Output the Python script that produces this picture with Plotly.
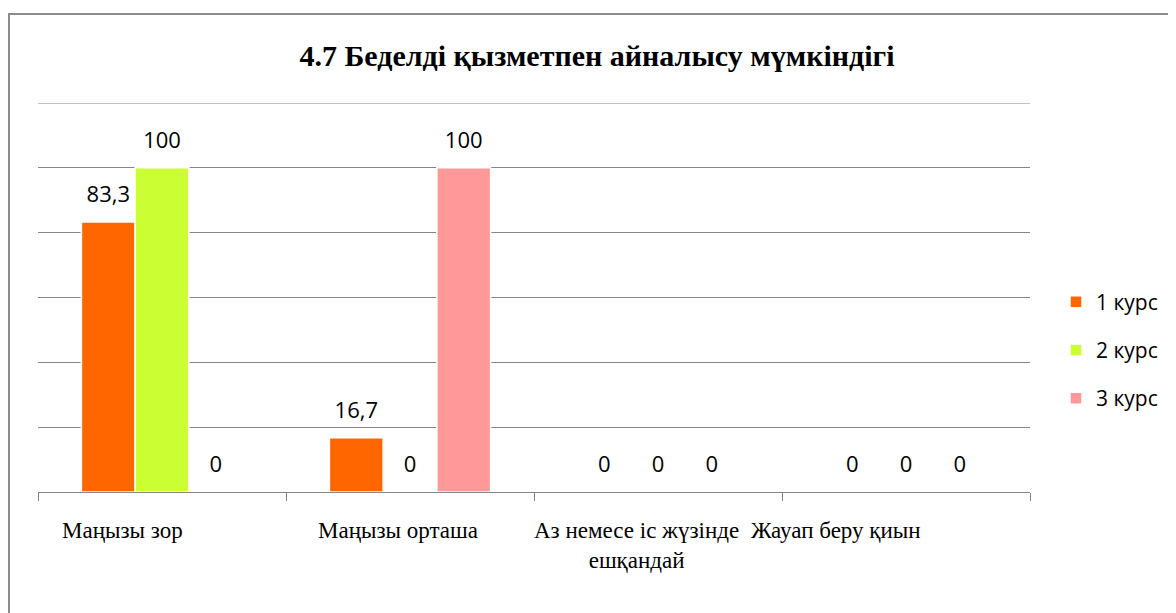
import plotly.graph_objects as go

categories = ["Маңызы зор", "Маңызы орташа", "Аз немесе іс жүзінде<br>ешқандай", "Жауап беру қиын"]
series_names = ["1 курс", "2 курс", "3 курс"]
course1 = [83.3, 16.7, 0, 0]
course2 = [100, 0, 0, 0]
course3 = [0, 100, 0, 0]
colors = ["#FF6600", "#CCFF33", "#FF9999"]
title_text = "4.7 Беделді қызметпен айналысу мүмкіндігі"
label_shift = [-40, -12, -22, -70]  # horizontal style offsets of category captions (px)


def fmt(v):
    s = ("%.1f" % v).rstrip("0").rstrip(".")
    return s.replace(".", ",")


sans = "Open Sans, Liberation Sans, sans-serif"
serif = "Liberation Serif, Times New Roman, serif"

fig = go.Figure()
for i, (name, vals) in enumerate(zip(series_names, [course1, course2, course3])):
    fig.add_trace(go.Bar(
        x=categories, y=vals, name=name, offsetgroup=str(i),
        marker=dict(color=colors[i], line=dict(color="white", width=1.5)),
        legendgroup=name,
    ))
for i, (name, vals) in enumerate(zip(series_names, [course1, course2, course3])):
    fig.add_trace(go.Scatter(
        x=categories, y=vals, name=name, offsetgroup=str(i), mode="markers+text",
        marker=dict(size=22, color="rgba(0,0,0,0)"),
        text=[fmt(v) for v in vals], textposition="top center", cliponaxis=False,
        textfont=dict(family=sans, size=22, color="black"),
        showlegend=False, hoverinfo="skip", legendgroup=name,
    ))

# page has an 8px body margin; work in page pixels
OFF = 8
W, H = 1176 - OFF, 613 - OFF
PL, PR, PT, PB = 38, 1030, 103, 492  # plot area in page pixels
L, R, T, B = PL - OFF, W - (PR - OFF), PT - OFF, H - (PB - OFF)
pw, ph = PR - PL, PB - PT


def px_x(p):
    return (p - PL) / pw


def px_y(p):
    return (PB - p) / ph


annotations = []
for c, sh in zip(categories, label_shift):
    annotations.append(dict(x=c, xref="x", y=0, yref="paper", yanchor="top", xanchor="center",
                            yshift=-24, xshift=sh, text=c, showarrow=False, align="center",
                            font=dict(family=serif, size=23, color="black")))

fig.update_layout(
    width=W, height=H,
    margin=dict(l=L, r=R, t=T, b=B),
    paper_bgcolor="white", plot_bgcolor="white",
    barmode="group", bargap=0.35, bargroupgap=0.0,
    scattermode="group", scattergap=0.35,
    title=dict(text="<b>" + title_text + "</b>", x=(597 - OFF) / W, xanchor="center",
               y=1 - (55 - OFF) / H, yanchor="middle",
               font=dict(family="Liberation Serif", size=30, color="black")),
    legend=dict(x=px_x(1056), xanchor="left", y=px_y(350), yanchor="middle",
                font=dict(family=sans, size=21, color="black"),
                tracegroupgap=18, traceorder="grouped", bgcolor="rgba(0,0,0,0)"),
    showlegend=True,
    annotations=annotations,
    xaxis=dict(showline=True, linecolor="#868686", linewidth=1, ticks="outside", tickson="boundaries",
               ticklen=8, tickcolor="#868686", showgrid=False, showticklabels=False),
    yaxis=dict(range=[0, 120], dtick=20, showticklabels=False, showgrid=True, gridcolor="#868686",
               gridwidth=1, zeroline=False, showline=False),
    shapes=[
        dict(type="line", xref="paper", yref="y", x0=0, x1=1, y0=120, y1=120,
             line=dict(color="#868686", width=1), layer="below"),
        dict(type="rect", xref="paper", yref="paper",
             x0=px_x(9), x1=px_x(1190), y0=px_y(630), y1=px_y(14),
             line=dict(color="#8C8C8C", width=2), fillcolor="rgba(0,0,0,0)", layer="below"),
    ],
)

fig.write_html("out.html")
